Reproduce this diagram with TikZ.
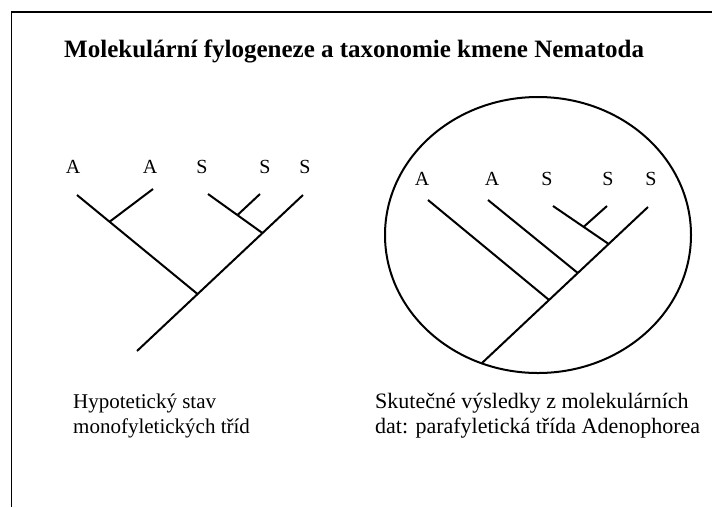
\documentclass[tikz,border=0pt]{standalone}
\usepackage{fontspec}
\setmainfont{Liberation Serif}
\usetikzlibrary{calc,shapes.geometric}
\begin{document}
\begin{tikzpicture}[x=1pt,y=-1pt,
  branch/.style={line width=2pt},
  leaf/.style={font=\fontsize{20}{24}\selectfont, inner sep=0pt},
  caption/.style={font=\fontsize{21}{25}\selectfont, inner sep=0pt, anchor=base west},
  frameline/.style={line width=1.8pt}]
\useasboundingbox (0,0) rectangle (712,507);
\fill[white] (0,0) rectangle (712,507);
% frame
\coordinate (fTR) at (712,12);
\coordinate (fTL) at (11.5,12);
\coordinate (fBL) at (11.5,507);
\draw[frameline] (fTR) -- (fTL) -- (fBL);
% title
\node[inner sep=0pt, anchor=base west, font=\fontsize{25}{30}\selectfont\bfseries] (title) at (64,57)
  {Molekulární fylogeneze a taxonomie kmene Nematoda};
% ---------- left tree ----------
\node[leaf] (tA1) at (73,167) {A};
\node[leaf] (tA2) at (150,167) {A};
\node[leaf] (tS1) at (202,167) {S};
\node[leaf] (tS2) at (265,167) {S};
\node[leaf] (tS3) at (305,167) {S};
\coordinate (lA1) at (77,195);
\coordinate (lA2) at (153,189);
\coordinate (lS1) at (208,194);
\coordinate (lS2) at (260,194);
\coordinate (lS3) at (303,195);
\coordinate (lroot) at (137,351);
\coordinate (lJ1) at ($(lS3)!0.635!(lroot)$);
\coordinate (lJ3) at ($(lS3)!0.244!(lroot)$);
\coordinate (lJ2) at ($(lA1)!0.27!(lJ1)$);
\coordinate (lJ4) at ($(lS1)!0.54!(lJ3)$);
\draw[branch] (lS3) -- (lroot);
\draw[branch] (lA1) -- (lJ1);
\draw[branch] (lA2) -- (lJ2);
\draw[branch] (lS1) -- (lJ3);
\draw[branch] (lS2) -- (lJ4);
% ---------- right tree ----------
\node[draw, line width=2pt, ellipse, minimum width=306pt, minimum height=276pt, inner sep=0pt] (circ) at (538,235) {};
\node[leaf] (uA1) at (422,179) {A};
\node[leaf] (uA2) at (492,179) {A};
\node[leaf] (uS1) at (547,179) {S};
\node[leaf] (uS2) at (608,179) {S};
\node[leaf] (uS3) at (651,179) {S};
\coordinate (rA1) at (428,200);
\coordinate (rA2) at (488,200);
\coordinate (rS1) at (553,206);
\coordinate (rS2) at (607,206);
\coordinate (rS3) at (648,207);
\coordinate (rroot) at (482,363);
\coordinate (rK1) at ($(rS3)!0.596!(rroot)$);
\coordinate (rK2) at ($(rS3)!0.423!(rroot)$);
\coordinate (rK3) at ($(rS3)!0.237!(rroot)$);
\coordinate (rK4) at ($(rS1)!0.55!(rK3)$);
\draw[branch] (rS3) -- (rroot);
\draw[branch] (rA1) -- (rK1);
\draw[branch] (rA2) -- (rK2);
\draw[branch] (rS1) -- (rK3);
\draw[branch] (rS2) -- (rK4);
% ---------- captions ----------
\node[caption] (capLa) at (73,408) {Hypotetický stav};
\node[caption] (capLb) at (73,433) {monofyletických tříd};
\node[caption, font=\fontsize{22}{26}\selectfont] (capRa) at (375,408) {Skutečné výsledky z molekulárních};
\node[caption, font=\fontsize{22}{26}\selectfont] (capRb) at (375,433) {dat: parafyletická třída Adenophorea};
\end{tikzpicture}
\end{document}
